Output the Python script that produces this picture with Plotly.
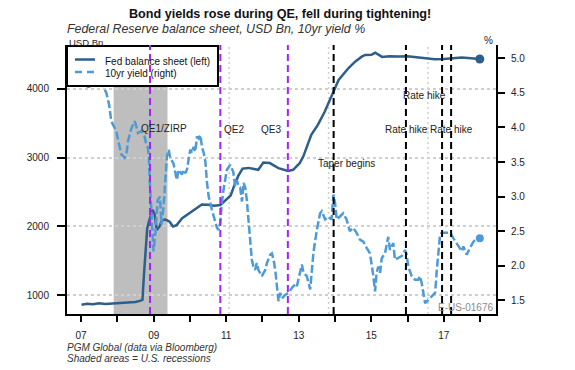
import plotly.graph_objects as go

# ---------------- data ----------------
fed_dates = [
    "2007-01-05", "2007-03-01", "2007-05-01", "2007-07-01", "2007-09-01", "2007-11-01",
    "2008-01-01", "2008-03-01", "2008-05-01", "2008-07-01", "2008-08-15", "2008-09-10",
    "2008-09-25", "2008-10-10", "2008-10-28", "2008-11-20", "2008-12-20", "2009-01-10",
    "2009-02-01", "2009-03-01", "2009-03-25", "2009-05-01", "2009-06-10", "2009-07-15",
    "2009-08-20", "2009-10-15", "2009-12-31", "2010-03-01", "2010-05-01", "2010-07-01",
    "2010-09-01", "2010-11-03", "2011-01-01", "2011-02-15", "2011-03-25", "2011-05-01",
    "2011-06-15", "2011-08-15", "2011-11-20", "2012-01-10", "2012-03-15", "2012-06-10",
    "2012-09-15", "2012-11-05", "2013-01-10", "2013-02-15", "2013-05-07", "2013-07-12",
    "2013-09-20", "2013-12-18", "2014-02-06", "2014-05-15", "2014-07-22", "2014-09-27",
    "2014-11-01", "2015-01-01", "2015-02-10", "2015-04-20", "2015-07-01", "2015-10-01",
    "2016-01-01", "2016-04-01", "2016-07-01", "2016-10-01", "2017-01-01", "2017-04-01",
    "2017-07-01", "2017-10-01", "2017-12-29",
]
fed_values = [
    865, 880, 870, 885, 875, 880,
    890, 895, 900, 905, 920, 935,
    1300, 1700, 1980, 2100, 2240, 2180,
    1950, 2000, 2090, 2100, 2070, 2000,
    2020, 2120, 2200, 2267, 2320, 2314,
    2300, 2310, 2390, 2450, 2600, 2730,
    2840, 2850, 2822, 2928, 2920, 2846,
    2807, 2822, 2919, 3014, 3329, 3474,
    3667, 3957, 4126, 4296, 4391, 4464,
    4488, 4490, 4520, 4460, 4470, 4465,
    4470, 4455, 4440, 4425, 4430, 4445,
    4450, 4440, 4430,
]

yield_dates = [
    "2007-01-05", "2007-02-15", "2007-03-15", "2007-04-20", "2007-06-12", "2007-07-15",
    "2007-08-10", "2007-09-12", "2007-10-10", "2007-10-25", "2007-11-01", "2007-12-20",
    "2008-01-23", "2008-02-10", "2008-03-14", "2008-04-01", "2008-04-17", "2008-05-05",
    "2008-05-22", "2008-06-07", "2008-06-24", "2008-07-09", "2008-07-26", "2008-08-29",
    "2008-10-01", "2008-10-19", "2008-11-05", "2008-11-15", "2008-11-21", "2008-12-30",
    "2009-01-20", "2009-02-10", "2009-03-05", "2009-03-20", "2009-04-10", "2009-05-14",
    "2009-06-01", "2009-06-17", "2009-07-19", "2009-08-22", "2009-09-08", "2009-10-12",
    "2009-10-30", "2009-11-15", "2009-12-02", "2010-01-04", "2010-01-22", "2010-02-07",
    "2010-02-24", "2010-03-13", "2010-03-30", "2010-04-16", "2010-05-02", "2010-05-20",
    "2010-06-05", "2010-06-22", "2010-07-09", "2010-08-10", "2010-09-13", "2010-09-30",
    "2010-10-16", "2010-11-02", "2010-11-18", "2010-12-05", "2011-01-08", "2011-02-10",
    "2011-03-13", "2011-04-01", "2011-04-18", "2011-05-05", "2011-05-22", "2011-06-09",
    "2011-06-25", "2011-07-12", "2011-07-28", "2011-08-14", "2011-08-30", "2011-09-16",
    "2011-10-02", "2011-10-19", "2011-11-05", "2011-11-22", "2011-12-26", "2012-01-29",
    "2012-02-15", "2012-03-03", "2012-03-19", "2012-04-05", "2012-04-22", "2012-05-09",
    "2012-05-26", "2012-06-11", "2012-06-28", "2012-07-15", "2012-08-17", "2012-09-20",
    "2012-10-23", "2012-11-25", "2012-12-12", "2013-01-15", "2013-02-01", "2013-02-18",
    "2013-03-23", "2013-04-26", "2013-05-13", "2013-05-30", "2013-07-02", "2013-08-04",
    "2013-08-21", "2013-09-23", "2013-10-26", "2013-11-28", "2013-12-16", "2014-01-01",
    "2014-01-18", "2014-02-20", "2014-03-25", "2014-04-27", "2014-05-30", "2014-07-03",
    "2014-08-05", "2014-09-08", "2014-10-13", "2014-11-15", "2014-12-19", "2015-01-22",
    "2015-02-08", "2015-02-24", "2015-03-13", "2015-03-31", "2015-04-16", "2015-05-19",
    "2015-06-21", "2015-07-08", "2015-08-11", "2015-08-27", "2015-09-30", "2015-11-03",
    "2015-11-20", "2015-12-07", "2015-12-24", "2016-01-08", "2016-02-13", "2016-03-17",
    "2016-04-19", "2016-05-06", "2016-05-23", "2016-06-26", "2016-07-30", "2016-09-01",
    "2016-10-05", "2016-10-22", "2016-11-07", "2016-11-24", "2016-12-11", "2017-01-31",
    "2017-03-05", "2017-04-06", "2017-05-27", "2017-07-01", "2017-07-16", "2017-08-19",
    "2017-09-21", "2017-10-26", "2017-11-28", "2017-12-29",
]
yield_values = [
    4.68, 4.75, 4.55, 4.70, 5.10, 4.95,
    4.60, 4.50, 4.33, 4.16, 4.09, 3.95,
    3.75, 3.61, 3.56, 3.61, 3.80, 3.92,
    3.99, 4.04, 4.09, 4.02, 3.92, 3.95,
    3.87, 3.75, 3.70, 3.51, 3.27, 2.21,
    2.50, 2.95, 3.00, 2.60, 2.85, 3.58,
    3.68, 3.56, 3.48, 3.24, 3.39, 3.32,
    3.39, 3.34, 3.39, 3.68, 3.63, 3.72,
    3.65, 3.87, 3.84, 3.89, 3.72, 3.63,
    3.51, 3.20, 3.00, 2.81, 2.62, 2.55,
    2.52, 2.62, 2.91, 3.10, 3.39, 3.46,
    3.36, 3.15, 3.24, 3.15, 3.13, 2.93,
    3.20, 3.13, 2.95, 2.67, 2.33, 2.09,
    1.99, 1.94, 2.04, 1.94, 1.85, 1.94,
    2.04, 2.09, 2.16, 2.18, 2.09, 1.94,
    1.75, 1.49, 1.61, 1.53, 1.58, 1.61,
    1.68, 1.73, 1.70, 1.90, 2.02, 1.90,
    1.85, 1.66, 1.94, 2.21, 2.52, 2.76,
    2.79, 2.67, 2.71, 2.67, 3.03, 2.91,
    2.67, 2.71, 2.76, 2.67, 2.50, 2.55,
    2.48, 2.38, 2.35, 2.26, 2.18, 1.85,
    1.63, 1.90, 1.99, 1.90, 2.11, 2.18,
    2.42, 2.23, 2.33, 2.09, 2.11, 2.14,
    2.18, 2.23, 2.16, 1.99, 1.85, 1.80,
    1.80, 1.85, 1.75, 1.46, 1.51, 1.56,
    1.61, 1.94, 2.18, 2.45, 2.48, 2.48,
    2.48, 2.40, 2.28, 2.21, 2.28, 2.16,
    2.26, 2.35, 2.40, 2.40,
]

recession_start = "2007-11-25"
recession_end = "2009-05-20"
qe_dates = ["2008-11-25", "2010-11-03", "2012-09-13"]
qe_labels = ["QE1/ZIRP", "QE2", "QE3"]
tight_dates = ["2013-12-18", "2015-12-16", "2016-12-14", "2017-03-15"]
tight_labels = ["Taper begins", "Rate hike", "Rate hike", "Rate hike"]
vgrid_dates = ["2008-05-06", "2011-01-31", "2013-10-28", "2016-07-24"]

year_tick_vals = [f"{y}-01-01" for y in range(2007, 2019)]
year_tick_text = ["07", "", "09", "", "11", "", "13", "", "15", "", "17", ""]
left_ticks = [1000, 2000, 3000, 4000]
right_ticks = [1.5, 2.0, 2.5, 3.0, 3.5, 4.0, 4.5, 5.0]
right_tick_text = ["1.5", "2.0", "2.5", "3.0", "3.5", "4.0", "4.5", "5.0"]

series_names = ["Fed balance sheet (left)", "10yr yield (right)"]

# ---------------- style / layout ----------------
FONT = "Liberation Sans, Arial, sans-serif"
C_FED = "#2E5E8A"
C_YLD = "#4D9AD6"
C_QE = "#A324F5"
C_GRID = "#CFCFCF"

BODY = 8                      # page body margin of the html wrapper
SW, SH = 575, 370             # screen size
PL, PR, PT, PB = 67, 496, 45, 314   # plot area on screen
W, H = SW - BODY, SH - BODY
ML, MT = PL - BODY, PT - BODY
MR, MB = SW - PR, SH - PB
PW, PH = PR - PL, PB - PT


def px(xs):
    return (xs - PL) / PW


def py(ys):
    return (PB - ys) / PH


fig = go.Figure()

fig.add_trace(go.Scatter(
    x=yield_dates, y=yield_values, yaxis="y2", mode="lines",
    name=series_names[1], showlegend=False,
    line=dict(color=C_YLD, width=2.5, dash="8px,3px"),
))
fig.add_trace(go.Scatter(
    x=fed_dates, y=fed_values, mode="lines",
    name=series_names[0], showlegend=False,
    line=dict(color=C_FED, width=2.5),
))
fig.add_trace(go.Scatter(
    x=[yield_dates[-1]], y=[yield_values[-1]], yaxis="y2", mode="markers",
    marker=dict(color=C_YLD, size=8), showlegend=False,
))
fig.add_trace(go.Scatter(
    x=[fed_dates[-1]], y=[fed_values[-1]], mode="markers",
    marker=dict(color=C_FED, size=9), showlegend=False,
))

shapes = []
for d in vgrid_dates:
    shapes.append(dict(type="line", xref="x", yref="paper", x0=d, x1=d, y0=0, y1=1,
                       line=dict(color=C_GRID, width=1.5, dash="2px,3px"), layer="between"))
shapes.append(dict(type="rect", xref="x", yref="paper", x0=recession_start, x1=recession_end,
                   y0=0, y1=1, fillcolor="#BEBEBE", line=dict(width=0), layer="between"))

# legend box (drawn as shapes so event lines can cross it as in the reference)
LG = dict(x0=67, x1=218, y0=46, y1=86)
shapes.append(dict(type="rect", xref="paper", yref="paper", x0=px(LG["x0"]), x1=px(LG["x1"]),
                   y0=py(LG["y1"]), y1=py(LG["y0"]), fillcolor="white",
                   line=dict(color="black", width=2), layer="above"))
shapes.append(dict(type="line", xref="paper", yref="paper", x0=px(75), x1=px(95),
                   y0=py(59.5), y1=py(59.5), line=dict(color=C_FED, width=2.5), layer="above"))
shapes.append(dict(type="line", xref="paper", yref="paper", x0=px(75), x1=px(96),
                   y0=py(72), y1=py(72), line=dict(color=C_YLD, width=2.5, dash="7px,5px"),
                   layer="above"))

for d in qe_dates:
    shapes.append(dict(type="line", xref="x", yref="paper", x0=d, x1=d, y0=0, y1=1,
                       line=dict(color=C_QE, width=2, dash="7px,4px"), layer="above"))
for d in tight_dates:
    shapes.append(dict(type="line", xref="x", yref="paper", x0=d, x1=d, y0=0, y1=1,
                       line=dict(color="black", width=2, dash="7px,4px"), layer="above"))


def txt(text, xs, ys, size=10, color="#222", anchor="left"):
    return dict(text=text, xref="paper", yref="paper", x=px(xs), y=py(ys),
                xanchor=anchor, yanchor="middle", showarrow=False,
                font=dict(family=FONT, size=size, color=color))


# label positions (pixel centres on screen)
label_pos = [(164, 128), (234, 129), (271, 129), (346, 163), (424, 95), (406, 129), (451, 129)]
anns = [txt(t, xs, ys, anchor="center") for t, (xs, ys) in zip(qe_labels + tight_labels, label_pos)]

anns += [
    txt(series_names[0], 103, 61.5, color="#111"),
    txt(series_names[1], 103, 73.5, color="#111"),
    txt("<b>Bond yields rose during QE, fell during tightening!</b>", 280, 14.5, size=12.6,
        color="#111", anchor="center"),
    txt("<i>Federal Reserve balance sheet, USD Bn, 10yr yield %</i>", 65, 29.5, size=12.4,
        color="#333"),
    txt("USD Bn", 67, 42, size=9.5),
    txt("%", 488, 41, anchor="center"),
    txt("E-US-01676", 495, 307, color="#8A8A8A", anchor="right"),
    txt("<i>PGM Global (data via Bloomberg)</i>", 65, 347, color="#333"),
    txt("<i>Shaded areas = U.S. recessions</i>", 65, 358, color="#333"),
]

fig.update_layout(
    width=W, height=H,
    margin=dict(l=ML, r=MR, t=MT, b=MB, pad=0),
    paper_bgcolor="white", plot_bgcolor="white",
    font=dict(family=FONT, size=10, color="#222"),
    shapes=shapes, annotations=anns,
    showlegend=False,
    xaxis=dict(type="date", range=["2006-08-12", "2018-06-10"], tickmode="array",
               tickvals=year_tick_vals, ticktext=year_tick_text, showgrid=False,
               showline=True, linecolor="black", linewidth=2, ticks="outside",
               ticklen=6, tickwidth=2, tickcolor="black", ticklabelstandoff=5,
               zeroline=False, tickfont=dict(size=10, color="#222")),
    yaxis=dict(range=[730, 4633], tickmode="array", tickvals=left_ticks,
               showgrid=True, gridcolor=C_GRID, gridwidth=1.5, griddash="3px,3px",
               showline=True, linecolor="black", linewidth=2, ticks="outside",
               ticklen=8, tickwidth=2, tickcolor="black", ticklabelstandoff=6,
               zeroline=False, tickfont=dict(size=10, color="#222")),
    yaxis2=dict(range=[1.304, 5.192], overlaying="y", side="right", tickmode="array",
                tickvals=right_ticks, ticktext=right_tick_text, showgrid=False,
                showline=True, linecolor="black", linewidth=2, ticks="outside",
                ticklen=7, tickwidth=2, tickcolor="black", ticklabelstandoff=4,
                zeroline=False, tickfont=dict(size=10, color="#222")),
)

fig.write_html("out.html")
